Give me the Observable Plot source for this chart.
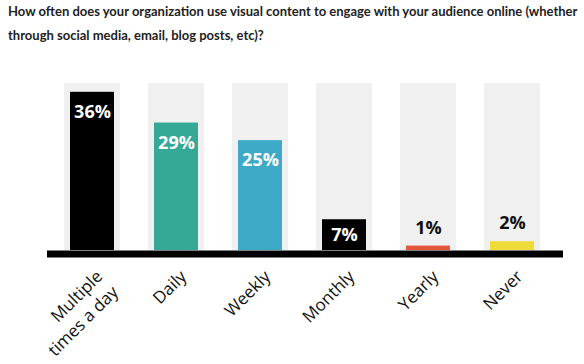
<!DOCTYPE html>
<html><head><meta charset="utf-8">
<script src="https://cdn.jsdelivr.net/npm/d3@7"></script>
<script src="https://cdn.jsdelivr.net/npm/@observablehq/plot@0.6"></script>
<style>
body{margin:0;background:#fff;}
#title{height:58px;padding-left:8px;font-family:Lato;font-weight:700;font-size:13px;line-height:23.5px;color:#222;white-space:nowrap;overflow:hidden;}
</style></head><body>
<div id="title">How often does your organization use visual content to engage with your audience online (whether<br>through social media, email, blog posts, etc)?</div>
<div id="chart"></div>
<script>
const categories = ["Multiple times a day", "Daily", "Weekly", "Monthly", "Yearly", "Never"];
const values = [36, 29, 25, 7, 1, 2];
const colors = ["#000000", "#36a996", "#3faac8", "#000000", "#e4553a", "#efdc3a"];
const tickLabels = ["Multiple\ntimes a day", "Daily", "Weekly", "Monthly", "Yearly", "Never"];
const scaleMax = 38;

const data = categories.map((c, i) => ({category: c, value: values[i], color: colors[i], label: tickLabels[i]}));

const chart = Plot.plot({
  width: 584,
  height: 306,
  marginTop: 25,
  marginBottom: 114,
  marginLeft: 63,
  marginRight: 43,
  style: {fontFamily: "'Open Sans'", background: "#fff"},
  x: {domain: categories, paddingInner: 0.336, paddingOuter: 0, axis: null},
  y: {domain: [0, scaleMax], axis: null},
  color: {type: "identity"},
  marks: [
    Plot.barY(data, {x: "category", y1: 0, y2: () => scaleMax, fill: "#f0f0f0"}),
    Plot.barY(data, {x: "category", y: "value", fill: "color", insetLeft: 6, insetRight: 6}),
    Plot.ruleY([0], {stroke: "#000", strokeWidth: 7, dy: 3.5, insetLeft: -16, insetRight: -22}),
    Plot.text(data.filter(d => d.value >= 10), {x: "category", y: "value", text: d => d.value + "%", dy: 20, fill: "#fff", fontSize: 18, fontWeight: 700}),
    Plot.text(data.filter(d => d.value >= 5 && d.value < 10), {x: "category", y: d => d.value / 2, text: d => d.value + "%", fill: "#fff", fontSize: 18, fontWeight: 700}),
    Plot.text(data.filter(d => d.value < 5), {x: "category", y: "value", text: d => d.value + "%", dy: -18, fill: "#111", fontSize: 18, fontWeight: 700}),
    Plot.text(data, {x: "category", text: "label", frameAnchor: "bottom", rotate: -45, textAnchor: "end", lineAnchor: "top", lineHeight: 1.3, dx: 0, dy: 16, fontSize: 17, fill: "#111"})
  ]
});
document.getElementById("chart").appendChild(chart);
</script>
</body></html>
